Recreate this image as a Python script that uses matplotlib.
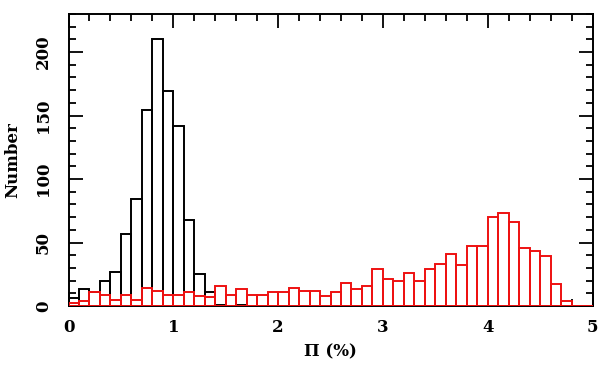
import numpy as np
import matplotlib
matplotlib.use("Agg")
import matplotlib.pyplot as plt
from matplotlib.ticker import MultipleLocator

bin_edges = np.round(np.arange(0, 5.0, 0.1), 2)

black_counts = [6, 13, 11, 20, 27, 57, 84, 154, 210, 169, 142, 68, 25, 11, 1, 0, 1,
                0, 0, 0, 0, 0, 0, 0, 0, 0, 0, 0, 0, 0, 0, 0, 0, 0, 0, 0, 0, 0, 0, 0,
                0, 0, 0, 0, 0, 0, 0, 0, 0, 0]

red_counts = [2, 4, 11, 9, 5, 9, 5, 14, 12, 9, 9, 11, 8, 7, 16, 9, 13, 9, 9, 11,
              11, 14, 12, 12, 8, 11, 18, 13, 16, 29, 21, 20, 26, 20, 29, 33, 41, 32, 47, 47,
              70, 73, 66, 46, 43, 39, 17, 4, 0, 0]

plt.rcParams['font.family'] = ['DejaVu Serif']
plt.rcParams['font.weight'] = 'bold'

fig = plt.figure(figsize=(6.0, 3.72), dpi=100)
ax = fig.add_axes([68.5 / 600, 1 - 306 / 372, (592.5 - 68.5) / 600, (306 - 14) / 372])

ax.bar(bin_edges, black_counts, width=0.1, align='edge', fill=False,
       edgecolor='black', linewidth=1.4, zorder=2)
ax.bar(bin_edges, red_counts, width=0.1, align='edge', fill=False,
       edgecolor='#ee1111', linewidth=1.4, zorder=3)

ax.set_xlim(0, 5)
ax.set_ylim(0, 230)
ax.xaxis.set_major_locator(MultipleLocator(1))
ax.xaxis.set_minor_locator(MultipleLocator(0.2))
ax.yaxis.set_major_locator(MultipleLocator(50))
ax.yaxis.set_minor_locator(MultipleLocator(10))

ax.tick_params(which='both', direction='in', top=True, right=True, width=1.3, colors='black')
ax.tick_params(which='major', length=10)
ax.tick_params(which='minor', length=5)
ax.tick_params(axis='x', which='major', pad=9, labelsize=12)
ax.tick_params(axis='y', which='major', pad=12, labelsize=12)
for lab in ax.get_yticklabels():
    lab.set_rotation(90)
    lab.set_va('center')

for s in ax.spines.values():
    s.set_linewidth(1.4)

ax.set_xlabel('Π (%)', fontsize=12, fontweight='bold', labelpad=6)
ax.set_ylabel('Number', fontsize=12, fontweight='bold', labelpad=10)

fig.savefig('out.png', dpi=100)
